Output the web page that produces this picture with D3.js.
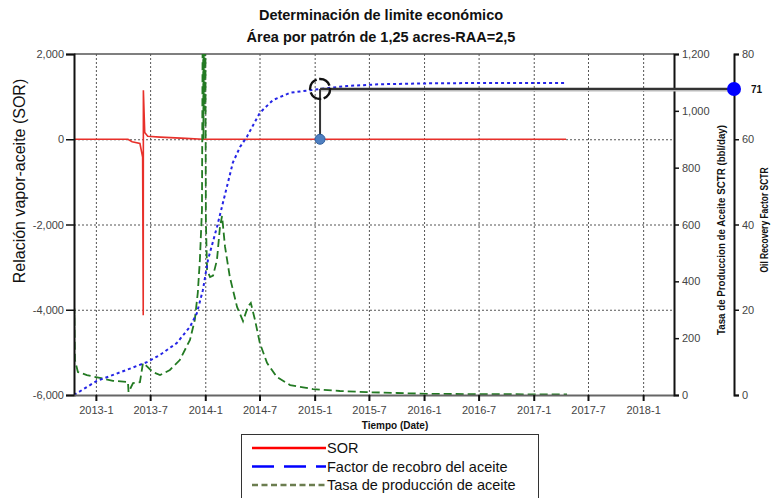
<!DOCTYPE html>
<html><head><meta charset="utf-8">
<script src="https://cdn.jsdelivr.net/npm/d3@7"></script>
<style>body{margin:0;background:#fff} text{font-family:"Liberation Sans",Arial,sans-serif}</style>
</head><body><svg id="c" width="772" height="498"></svg>
<script>
// ---------- data ----------
const titleLines = ["Determinación de limite económico", "Área por patrón de 1,25 acres-RAA=2,5"];
const xDomain = ["2012-10-20", "2018-04-14"];
const xTickDates = ["2013-01-01","2013-07-01","2014-01-01","2014-07-01","2015-01-01","2015-07-01","2016-01-01","2016-07-01","2017-01-01","2017-07-01","2018-01-01"];
const xTickLabels = ["2013-1","2013-7","2014-1","2014-7","2015-1","2015-7","2016-1","2016-7","2017-1","2017-7","2018-1"];
const sorTicks = [2000, 0, -2000, -4000, -6000];
const sorTickLabels = ["2,000","0","-2,000","-4,000","-6,000"];
const sorGrid = [0, -2000, -4000];
const rateTicks = [0, 200, 400, 600, 800, 1000, 1200];
const rateTickLabels = ["0","200","400","600","800","1,000","1,200"];
const rfTicks = [0, 20, 40, 60, 80];

const sorDates = ["2012-10-20","2013-04-18","2013-05-02","2013-05-28","2013-06-06","2013-06-08T00:00","2013-06-08T12:00","2013-06-13","2013-06-23","2013-08-03","2013-10-28","2013-12-24","2017-04-19"];
const sorValues = [0, 0, -60, -100, -420, -4130, 1150, 160, 70, 50, 20, 0, 0];

const rfDates = ["2012-10-20","2013-01-04","2013-04-14","2013-06-20","2013-08-03","2013-09-28","2013-11-11","2013-12-04","2013-12-24","2014-01-10","2014-02-09","2014-03-14","2014-04-03","2014-04-27","2014-05-20","2014-07-02","2014-08-15","2014-10-11","2014-11-13","2015-01-19","2015-04-19","2015-08-07","2015-12-29","2016-07-06","2017-04-19"];
const rfValues = [0, 3.3, 5.9, 7.7, 9.4, 12.2, 16, 19.2, 24.6, 31.7, 39.4, 48.8, 54.5, 58.2, 60.6, 66.2, 69.2, 70.9, 71.2, 71.8, 72.5, 72.9, 73.1, 73.2, 73.2];

const rateDates = ["2012-10-20","2012-10-21","2012-10-23","2012-11-02","2012-12-02","2013-01-14","2013-02-27","2013-04-18","2013-04-20","2013-05-05","2013-05-28","2013-06-07","2013-06-17","2013-07-10","2013-08-03","2013-09-05","2013-10-08","2013-11-11","2013-11-27","2013-12-07","2013-12-14","2013-12-21","2013-12-24","2013-12-26","2013-12-28","2013-12-30","2014-01-01","2014-01-03","2014-01-07","2014-01-17","2014-01-27","2014-02-09","2014-02-19","2014-02-26","2014-03-08","2014-03-24","2014-04-17","2014-05-07","2014-05-23","2014-06-02","2014-06-16","2014-07-02","2014-07-26","2014-08-28","2014-10-11","2014-12-26","2015-03-26","2015-06-25","2015-10-03","2016-01-21","2016-07-06","2017-04-22"];
const rateValues = [0, 305, 123, 81, 70, 60, 50, 46, 10, 42, 45, 112, 104, 81, 70, 88, 123, 194, 264, 359, 475, 651, 1500, 900, 1600, 1000, 1400, 616, 440, 415, 420, 475, 591, 630, 521, 415, 310, 260, 310, 324, 264, 183, 113, 63, 35, 21, 14, 10, 7, 4, 3, 2];

const markerDate = "2015-01-19";
const markerRF = 71.8;
const markerLabel = "71";

const legendLabels = ["SOR", "Factor de recobro del aceite", "Tasa de producción de aceite"];

// ---------- layout ----------
const L = 74, R = 674, T = 54, B = 395, R2 = 734;
const svg = d3.select("#c");
const P = s => d3.isoParse(s.length === 10 ? s + "T00:00" : s);

const x = d3.scaleTime().domain(xDomain.map(P)).range([L, R]);
const yS = d3.scaleLinear().domain([-6000, 2000]).range([B, T]);
const yQ = d3.scaleLinear().domain([0, 1200]).range([B, T]);
const yF = d3.scaleLinear().domain([0, 80]).range([B, T]);

svg.append("rect").attr("width", 772).attr("height", 498).attr("fill", "#fff");

// title
svg.selectAll(".ttl").data(titleLines).join("text")
  .attr("x", 381).attr("y", (d, i) => 20 + i * 22)
  .attr("text-anchor", "middle").attr("font-size", 14.5).attr("font-weight", "bold")
  .attr("fill", "#111").text(d => d);

// clip
svg.append("clipPath").attr("id", "clip").append("rect")
  .attr("x", L).attr("y", T).attr("width", R - L).attr("height", B - T);

// grid
const grid = svg.append("g").attr("stroke", "#555").attr("stroke-width", 1).attr("stroke-dasharray", "2,2");
grid.selectAll(".vg").data(xTickDates).join("line")
  .attr("x1", d => x(P(d)) + 0.5).attr("x2", d => x(P(d)) + 0.5).attr("y1", T).attr("y2", B);
grid.selectAll(".hg").data(sorGrid).join("line")
  .attr("x1", L).attr("x2", R).attr("y1", d => yS(d) + 0.5).attr("y2", d => yS(d) + 0.5);

// top frame
svg.append("line").attr("x1", L).attr("x2", R).attr("y1", T).attr("y2", T).attr("stroke", "#555").attr("stroke-width", 1.5);

// lines
const plot = svg.append("g").attr("clip-path", "url(#clip)");
const mk = (dates, vals) => dates.map((d, i) => [P(d), vals[i]]);
const lineS = d3.line().x(d => x(d[0])).y(d => yS(d[1]));
const lineQ = d3.line().x(d => x(d[0])).y(d => yQ(d[1]));
const lineF = d3.line().x(d => x(d[0])).y(d => yF(d[1]));

plot.append("path").datum(mk(sorDates, sorValues)).attr("d", lineS)
  .attr("fill", "none").attr("stroke", "#e8302a").attr("stroke-width", 1.6);
plot.append("path").datum(mk(rateDates, rateValues)).attr("d", lineQ)
  .attr("fill", "none").attr("stroke", "#237a23").attr("stroke-width", 1.8).attr("stroke-dasharray", "8,4");
plot.append("path").datum(mk(rfDates, rfValues)).attr("d", lineF)
  .attr("fill", "none").attr("stroke", "#2424e6").attr("stroke-width", 2).attr("stroke-dasharray", "3,3");

// axes
const fontTick = g => g.selectAll("text").attr("font-size", 11).attr("fill", "#444")
  .attr("font-family", "'Liberation Sans',Arial,sans-serif");

const axL = svg.append("g").attr("transform", `translate(${L},0)`)
  .call(d3.axisLeft(yS).tickValues(sorTicks).tickFormat((d, i) => sorTickLabels[i]).tickSize(8).tickPadding(2));
axL.call(fontTick);
axL.select(".domain").attr("stroke", "#111").attr("stroke-width", 2);
axL.selectAll(".tick line").attr("stroke", "#111").attr("stroke-width", 1.5);

const axB = svg.append("g").attr("transform", `translate(0,${B})`)
  .call(d3.axisBottom(x).tickValues(xTickDates.map(P)).tickFormat((d, i) => xTickLabels[i]).tickSize(6).tickSizeOuter(0).tickPadding(5));
axB.call(fontTick);
axB.select(".domain").attr("stroke", "#666").attr("stroke-width", 2);
axB.selectAll(".tick line").attr("stroke", "#111").attr("stroke-width", 2);

const axR = svg.append("g").attr("transform", `translate(${R},0)`)
  .call(d3.axisRight(yQ).tickValues(rateTicks).tickFormat((d, i) => rateTickLabels[i]).tickSize(5).tickPadding(3));
axR.call(fontTick);
axR.select(".domain").attr("stroke", "#111").attr("stroke-width", 2);
axR.selectAll(".tick line").attr("stroke", "#111").attr("stroke-width", 1.5);

const axR2 = svg.append("g").attr("transform", `translate(${R2},0)`)
  .call(d3.axisRight(yF).tickValues(rfTicks).tickFormat(d3.format("d")).tickSize(5).tickPadding(3));
axR2.call(fontTick);
axR2.select(".domain").attr("stroke", "#111").attr("stroke-width", 2);
axR2.selectAll(".tick line").attr("stroke", "#111").attr("stroke-width", 1.5);

// axis titles
svg.append("text").attr("transform", "translate(25,181) rotate(-90)")
  .attr("text-anchor", "middle").attr("font-size", 16).attr("fill", "#111")
  .text("Relación vapor-aceite (SOR)");
svg.append("text").attr("transform", "translate(725,230) rotate(-90)")
  .attr("text-anchor", "middle").attr("font-size", 10).attr("font-weight", "bold").attr("fill", "#111")
  .attr("textLength", 210).attr("lengthAdjust", "spacingAndGlyphs")
  .text("Tasa de Produccion de Aceite SCTR (bbl/day)");
svg.append("text").attr("transform", "translate(768,220) rotate(-90)")
  .attr("text-anchor", "middle").attr("font-size", 10).attr("font-weight", "bold").attr("fill", "#111")
  .attr("textLength", 105).attr("lengthAdjust", "spacingAndGlyphs")
  .text("Oil Recovery Factor SCTR");
svg.append("text").attr("x", 395).attr("y", 429)
  .attr("text-anchor", "middle").attr("font-size", 10).attr("font-weight", "bold").attr("fill", "#111")
  .text("Tiempo (Date)");

// marker
const mx = x(P(markerDate)), my = yF(markerRF), m0 = yS(0);
svg.append("line").attr("x1", mx).attr("x2", R2).attr("y1", my + 1.5).attr("y2", my + 1.5)
  .attr("stroke", "#bbb").attr("stroke-width", 2);
svg.append("line").attr("x1", mx).attr("x2", R2).attr("y1", my).attr("y2", my)
  .attr("stroke", "#333").attr("stroke-width", 2.2);
svg.append("line").attr("x1", mx).attr("x2", mx).attr("y1", my).attr("y2", m0)
  .attr("stroke", "#333").attr("stroke-width", 2);
const rr = 10, circ = 2 * Math.PI * rr;
svg.append("circle").attr("cx", mx).attr("cy", my).attr("r", rr).attr("fill", "none")
  .attr("stroke", "#111").attr("stroke-width", 2.4)
  .attr("stroke-dasharray", `${circ / 4 - 2.5},2.5`).attr("stroke-dashoffset", 1.25);
svg.append("circle").attr("cx", mx).attr("cy", m0).attr("r", 5)
  .attr("fill", "#4f7fc0").attr("stroke", "#2f5f9f").attr("stroke-width", 1);
svg.append("circle").attr("cx", R2).attr("cy", my).attr("r", 7).attr("fill", "#0000ff");
svg.append("text").attr("x", 751).attr("y", my + 4).attr("font-size", 10).attr("font-weight", "bold")
  .attr("fill", "#111").text(markerLabel);

// legend
const lg = svg.append("g");
lg.append("rect").attr("x", 241.5).attr("y", 434.5).attr("width", 297).attr("height", 70)
  .attr("fill", "#fff").attr("stroke", "#333").attr("stroke-width", 1);
const lgStyles = [
  {c: "#ff0000", d: null, w: 2.5},
  {c: "#0000ff", d: "22,10", w: 2.5},
  {c: "#6b7d4f", d: "6,3.5", w: 2.5}
];
legendLabels.forEach((t, i) => {
  const yy = 448 + i * 18.5;
  const ln = lg.append("line").attr("x1", 252).attr("x2", 326).attr("y1", yy).attr("y2", yy)
    .attr("stroke", lgStyles[i].c).attr("stroke-width", lgStyles[i].w);
  if (lgStyles[i].d) ln.attr("stroke-dasharray", lgStyles[i].d);
  lg.append("text").attr("x", 327).attr("y", yy + 5).attr("font-size", 14.5).attr("fill", "#111").text(t);
});
</script></body></html>
